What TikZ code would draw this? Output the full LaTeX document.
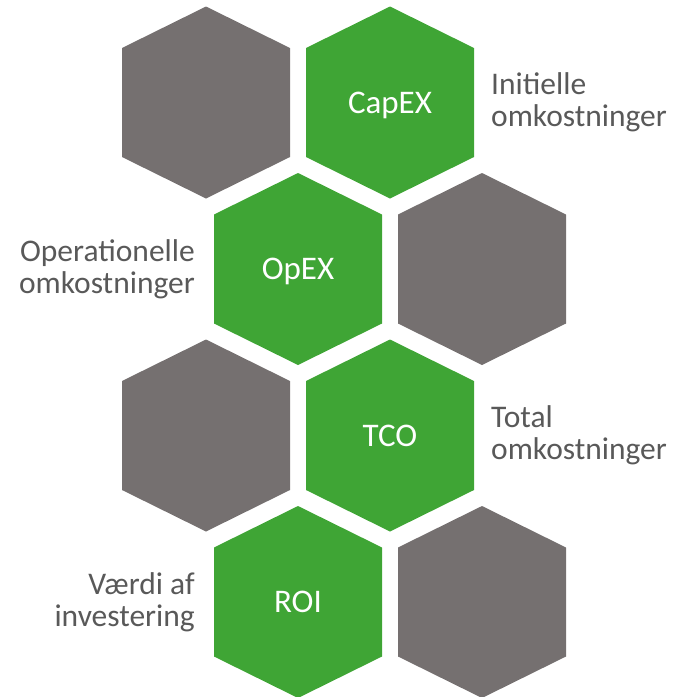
\documentclass[tikz,border=0pt]{standalone}
\usepackage{fontspec}
\setmainfont{Carlito}
\usepackage{tikz}
\definecolor{hexgreen}{HTML}{3FA535}
\definecolor{hexgrey}{HTML}{757070}
\definecolor{labelgrey}{HTML}{595959}
\tikzset{
  hexpath/.style={insert path={++(0,-96) -- ++(84,41.5) -- ++(0,109) -- ++(-84,41.5) -- ++(-84,-41.5) -- ++(0,-109) -- cycle}},
  greenhex/.style={fill=hexgreen},
  greyhex/.style={fill=hexgrey},
  hextext/.style={anchor=base,inner sep=0pt,text=white,font=\fontsize{33}{40}\selectfont},
  sidetext/.style={inner sep=0pt,text=labelgrey,font=\fontsize{31.5}{32}\selectfont}
}
\begin{document}
\begin{tikzpicture}[x=1pt,y=-1pt]
\useasboundingbox (0,0) rectangle (675,697);

% row 1
\fill[greyhex] (206,102.5) [hexpath];
\fill[greenhex] (390,102.5) [hexpath];
\node[hextext] (capex) at (390,113) {CapEX};
\node[sidetext,anchor=base west,align=left] (capexlbl) at (491,126) {Initielle\\omkostninger};

% row 2
\fill[greenhex] (298,269) [hexpath];
\fill[greyhex] (482,269) [hexpath];
\node[hextext] (opex) at (298,279.5) {OpEX};
\node[sidetext,anchor=base east,align=right] (opexlbl) at (195,293) {Operationelle\\omkostninger};

% row 3
\fill[greyhex] (206,435.5) [hexpath];
\fill[greenhex] (390,435.5) [hexpath];
\node[hextext] (tco) at (390,446) {TCO};
\node[sidetext,anchor=base west,align=left] (tcolbl) at (491,459) {Total\\omkostninger};

% row 4
\fill[greenhex] (298,602) [hexpath];
\fill[greyhex] (482,602) [hexpath];
\node[hextext] (roi) at (298,612.5) {ROI};
\node[sidetext,anchor=base east,align=right] (roilbl) at (195,626) {Værdi af\\investering};

\end{tikzpicture}
\end{document}
